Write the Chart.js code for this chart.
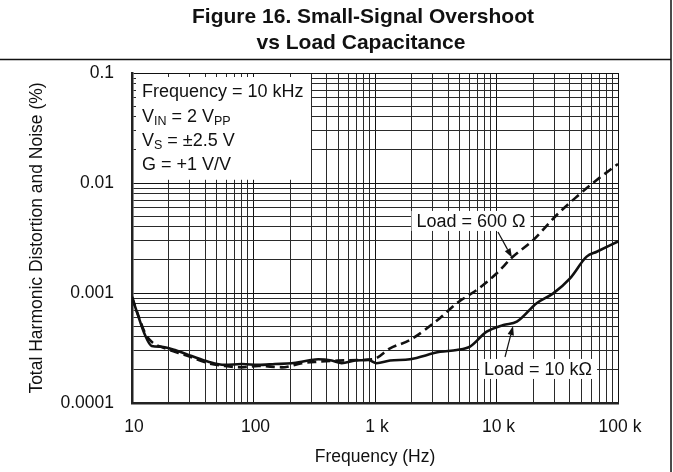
<!DOCTYPE html>
<html>
<head>
<meta charset="utf-8">
<script src="https://cdn.jsdelivr.net/npm/chart.js@4.4.1/dist/chart.umd.min.js"></script>
<style>
  html, body { margin: 0; padding: 0; background: #fff; }
</style>
</head>
<body>
<canvas id="thdChart" width="673" height="472"></canvas>
<script>
// values: frequency in Hz, THD+N in %
const freq10k = [10, 11.3, 12.8, 14.5, 17.5, 22.6, 31, 42.5, 58, 80, 110, 150, 206, 282, 341, 440, 532, 685, 880, 1030, 1330, 1940, 3430, 4700, 6050, 8300, 11400, 14700, 21400, 29300, 40300, 55200, 66800, 100000];
const thd10k = [0.00092, 0.00061, 0.000415, 0.00033, 0.000325, 0.000303, 0.000267, 0.000237, 0.000222, 0.000226, 0.000222, 0.000226, 0.00023, 0.000243, 0.00025, 0.000243, 0.00023, 0.000243, 0.000246, 0.00023, 0.000243, 0.00025, 0.000292, 0.000303, 0.000325, 0.000445, 0.000512, 0.000548, 0.000806, 0.000993, 0.00136, 0.00214, 0.00237, 0.00294];

const freq600 = [10, 11.3, 12.8, 14.5, 18.7, 27.3, 42.5, 58, 80, 110, 171, 250, 341, 499, 730, 968, 1330, 1940, 3430, 4700, 7050, 10050, 13400, 20100, 31300, 45700, 66800, 100000];
const thd600 = [0.00092, 0.00062, 0.000433, 0.00036, 0.000314, 0.000273, 0.00023, 0.000217, 0.000211, 0.000217, 0.000211, 0.00023, 0.000237, 0.000243, 0.000246, 0.00025, 0.000314, 0.000374, 0.000593, 0.000806, 0.001087, 0.00151, 0.0021, 0.00303, 0.00512, 0.0075, 0.01065, 0.0149];

const xTicks = [10, 100, 1000, 10000, 100000];
const xTickLabels = ['10', '100', '1 k', '10 k', '100 k'];
const yTicks = [0.0001, 0.001, 0.01, 0.1];
const yTickLabels = ['0.0001', '0.001', '0.01', '0.1'];

const FONT = "'Liberation Sans', Arial, Helvetica, sans-serif";
Chart.defaults.font.family = FONT;
Chart.defaults.color = '#111';

// 1..9 x each decade -> grid lines
function logGrid(min, max) {
  const out = [];
  for (let p = Math.round(Math.log10(min)); p < Math.round(Math.log10(max)); p++) {
    for (let m = 1; m < 10; m++) out.push(m * Math.pow(10, p));
  }
  out.push(max);
  return out;
}
function labelFor(v, ticks, labels) {
  const i = ticks.findIndex(t => Math.abs(Math.log10(t) - Math.log10(v)) < 1e-6);
  return i < 0 ? '' : labels[i];
}
function isDecade(v) {
  const l = Math.log10(v);
  return Math.abs(l - Math.round(l)) < 1e-6;
}

function arrow(ctx, x1, y1, x2, y2) {
  const a = Math.atan2(y2 - y1, x2 - x1);
  const len = 9, w = 3.2;
  ctx.beginPath();
  ctx.moveTo(x1, y1);
  ctx.lineTo(x2 - Math.cos(a) * len, y2 - Math.sin(a) * len);
  ctx.lineWidth = 1.2;
  ctx.strokeStyle = '#111';
  ctx.stroke();
  ctx.beginPath();
  ctx.moveTo(x2, y2);
  ctx.lineTo(x2 - Math.cos(a) * len - Math.sin(a) * w, y2 - Math.sin(a) * len + Math.cos(a) * w);
  ctx.lineTo(x2 - Math.cos(a) * len + Math.sin(a) * w, y2 - Math.sin(a) * len - Math.cos(a) * w);
  ctx.closePath();
  ctx.fillStyle = '#111';
  ctx.fill();
}

// text with a subscript part: parts = [[text, isSub], ...]
function subText(ctx, x, y, parts) {
  for (const [t, sub] of parts) {
    ctx.font = (sub ? '12.5px ' : '18px ') + FONT;
    ctx.fillText(t, x, sub ? y + 5 : y);
    x += ctx.measureText(t).width;
  }
}

const notes = {
  id: 'notes',
  beforeDatasetsDraw(chart) {
    const {ctx, chartArea: ca, scales: {x, y}} = chart;
    ctx.save();
    // conditions box
    const bx2 = x.getPixelForValue(300);
    const by2 = y.getPixelForValue(0.0107);
    ctx.fillStyle = '#fff';
    ctx.fillRect(ca.left + 4, ca.top + 4, bx2 - ca.left - 4.5, by2 - ca.top - 4);
    ctx.fillStyle = '#111';
    ctx.textBaseline = 'middle';
    ctx.textAlign = 'left';
    const tx = ca.left + 10;
    subText(ctx, tx, ca.top + 19, [['Frequency = 10 kHz', false]]);
    subText(ctx, tx, ca.top + 44, [['V', false], ['IN', true], [' = 2 V', false], ['PP', true]]);
    subText(ctx, tx, ca.top + 68, [['V', false], ['S', true], [' = \u00b12.5 V', false]]);
    subText(ctx, tx, ca.top + 92, [['G = +1 V/V', false]]);

    // curve labels
    ctx.font = '18px ' + FONT;
    ctx.textAlign = 'center';
    const labels = [
      {text: 'Load = 600 \u03a9', f: 6170, v: 0.00452},
      {text: 'Load = 10 k\u03a9', f: 21980, v: 0.000204}
    ];
    for (const l of labels) {
      const cx = x.getPixelForValue(l.f), cy = y.getPixelForValue(l.v);
      const w = ctx.measureText(l.text).width + 10;
      ctx.fillStyle = '#fff';
      ctx.fillRect(cx - w / 2, cy - 10, w, 20);
      ctx.fillStyle = '#111';
      ctx.fillText(l.text, cx, cy + 1);
    }
    ctx.restore();
  },
  afterDatasetsDraw(chart) {
    const {ctx, scales: {x, y}} = chart;
    ctx.save();
    arrow(ctx, x.getPixelForValue(10280), y.getPixelForValue(0.00359), x.getPixelForValue(13400), y.getPixelForValue(0.0021));
    arrow(ctx, x.getPixelForValue(11750), y.getPixelForValue(0.000262), x.getPixelForValue(13680), y.getPixelForValue(0.0005));
    ctx.restore();
  },
  afterDraw(chart) {
    const {ctx} = chart;
    ctx.save();
    ctx.strokeStyle = '#111';
    ctx.lineWidth = 1.5;
    ctx.beginPath();
    ctx.moveTo(0, 59.5);
    ctx.lineTo(671, 59.5);
    ctx.moveTo(671, 0);
    ctx.lineTo(671, chart.height);
    ctx.stroke();
    ctx.fillStyle = '#111';
    ctx.font = 'bold 21px ' + FONT;
    ctx.textAlign = 'center';
    ctx.textBaseline = 'middle';
    ctx.fillText('Figure 16. Small-Signal Overshoot', 363, 17);
    ctx.fillText('vs Load Capacitance', 361, 43);
    ctx.restore();
  }
};

const gridColor = c => isDecade(c.tick.value) ? '#111' : '#2a2a2a';

new Chart(document.getElementById('thdChart').getContext('2d'), {
  type: 'line',
  data: {
    datasets: [
      {
        label: 'Load = 10 k\u03a9',
        data: freq10k.map((f, i) => ({x: f, y: thd10k[i]})),
        borderColor: '#111',
        borderWidth: 2.6,
        pointRadius: 0,
        cubicInterpolationMode: 'monotone'
      },
      {
        label: 'Load = 600 \u03a9',
        data: freq600.map((f, i) => ({x: f, y: thd600[i]})),
        borderColor: '#111',
        borderWidth: 2.6,
        borderDash: [9, 5],
        pointRadius: 0,
        cubicInterpolationMode: 'monotone'
      }
    ]
  },
  options: {
    responsive: false,
    animation: false,
    layout: { padding: { left: 0, right: 55, top: 73, bottom: 0 } },
    plugins: { legend: { display: false }, tooltip: { enabled: false } },
    scales: {
      x: {
        type: 'logarithmic',
        min: 10,
        max: 100000,
        afterBuildTicks: s => { s.ticks = logGrid(10, 100000).map(v => ({value: v})); },
        afterFit: s => { s.height = 69; },
        grid: { color: gridColor, lineWidth: 1, drawTicks: false },
        border: { color: '#222', width: 2.5 },
        ticks: {
          autoSkip: false,
          maxRotation: 0,
          padding: 14,
          labelOffset: 2,
          font: { size: 17.5 },
          callback: v => labelFor(v, xTicks, xTickLabels)
        },
        title: { display: true, text: 'Frequency (Hz)', font: { size: 17.5 }, padding: 4 }
      },
      y: {
        type: 'logarithmic',
        min: 0.0001,
        max: 0.1,
        afterBuildTicks: s => { s.ticks = logGrid(0.0001, 0.1).map(v => ({value: v})); },
        afterFit: s => { s.width = 132; },
        grid: { color: gridColor, lineWidth: 1, drawTicks: false },
        border: { color: '#222', width: 2.5 },
        ticks: {
          autoSkip: false,
          padding: 18,
          font: { size: 17.5 },
          callback: v => labelFor(v, yTicks, yTickLabels)
        },
        title: { display: true, text: 'Total Harmonic Distortion and Noise (%)', font: { size: 17.5 }, padding: 27 }
      }
    }
  },
  plugins: [notes]
});
</script>
</body>
</html>
